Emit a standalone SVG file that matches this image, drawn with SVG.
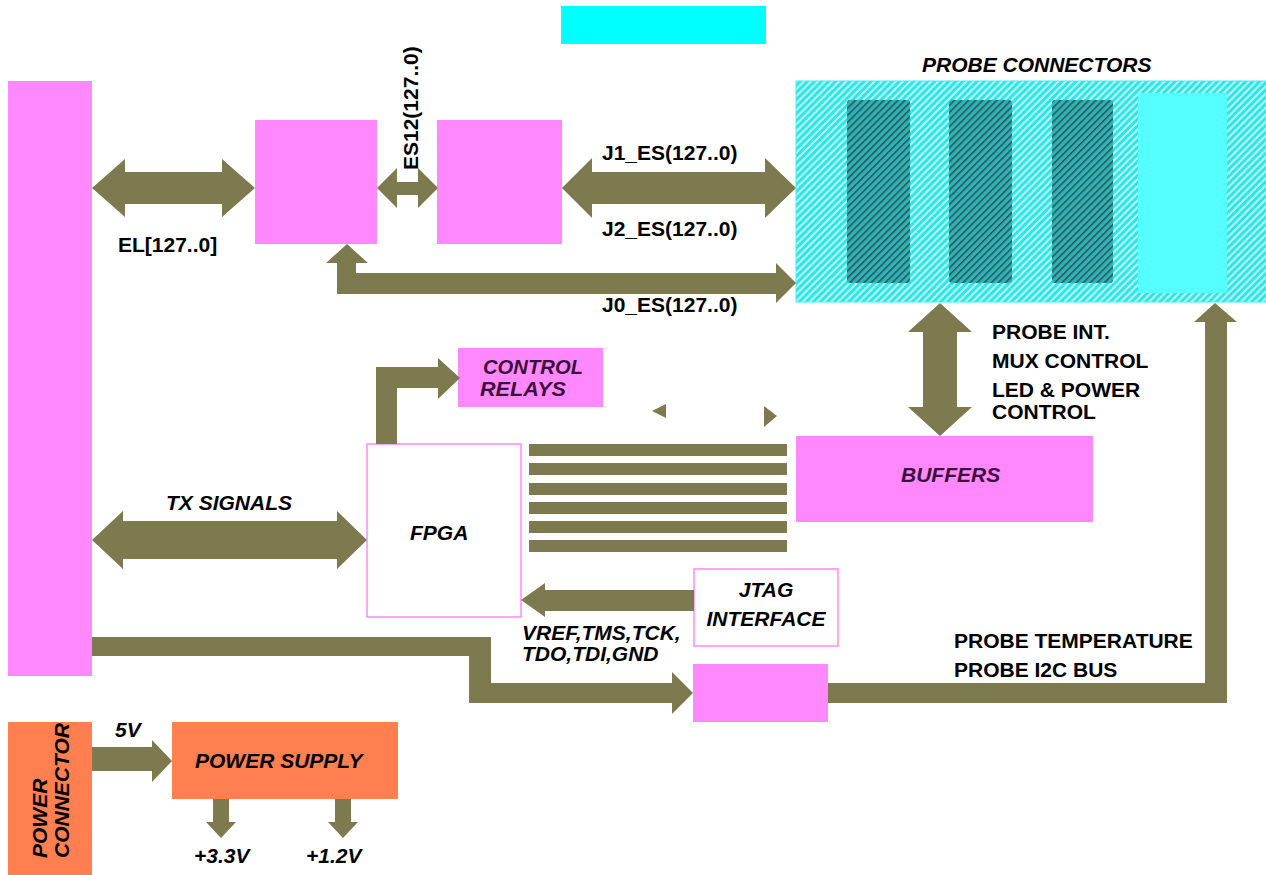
<svg xmlns="http://www.w3.org/2000/svg" width="1266" height="875" viewBox="0 0 1266 875">
<defs>
<style>
.mag{fill:#ff88ff}
.frame{fill:#ffffff;stroke:#ff88ff;stroke-width:1.5}
.org{fill:#ff7f50}
.conn polygon,.conn rect{fill:#7e7a50}
text{font-family:"Liberation Sans",Arial,Helvetica,sans-serif;font-size:21px;font-weight:bold;fill:#000}
.it{font-style:italic}
.pur{fill:#3a103a}
</style>
<pattern id="hatch" width="5" height="5" patternUnits="userSpaceOnUse" patternTransform="rotate(-45)">
<rect width="5" height="5" fill="#2de6e6"/><rect width="5" height="2" fill="#c0ffff"/>
</pattern>
<pattern id="hatchDark" width="5" height="5" patternUnits="userSpaceOnUse" patternTransform="rotate(-45)">
<rect width="5" height="5" fill="#2fb4b4"/><rect width="5" height="1.6" fill="#2a5560"/>
</pattern>
</defs>
<rect width="1266" height="875" fill="#ffffff"/>

<g id="top-bar"><rect x="561" y="6" width="205" height="38" fill="#00ffff"/></g>

<g id="backplane"><rect class="mag" x="8" y="81" width="84" height="595"/></g>

<g id="mux-a"><rect class="mag" x="255" y="120" width="122" height="124"/></g>
<g id="mux-b"><rect class="mag" x="437" y="120" width="125" height="124"/></g>

<g id="probe-connectors">
<text class="it" x="922" y="72">PROBE CONNECTORS</text>
<rect x="796" y="81" width="470" height="221" fill="url(#hatch)" stroke="#40f0f0" stroke-width="1"/>
<rect x="847" y="100" width="63" height="183" rx="3" fill="url(#hatchDark)"/>
<rect x="949" y="100" width="63" height="183" rx="3" fill="url(#hatchDark)"/>
<rect x="1052" y="100" width="61" height="183" rx="3" fill="url(#hatchDark)"/>
<rect x="1138" y="93" width="89" height="200" fill="#55ffff"/>
</g>

<g id="control-relays">
<rect class="mag" x="458" y="348" width="145" height="59"/>
<text class="it pur" x="483" y="374" font-size="16" textLength="100" lengthAdjust="spacingAndGlyphs">CONTROL</text>
<text class="it pur" x="480" y="396" font-size="16" textLength="86" lengthAdjust="spacingAndGlyphs">RELAYS</text>
</g>

<g id="fpga">
<rect class="frame" x="367" y="444" width="154" height="173"/>
<text class="it" x="410" y="540">FPGA</text>
</g>

<g id="buffers">
<rect class="mag" x="796" y="436" width="297" height="86"/>
<text class="it pur" x="901" y="482">BUFFERS</text>
</g>

<g id="jtag">
<rect class="frame" x="694" y="569" width="144" height="77"/>
<text class="it" x="766" y="597" text-anchor="middle" font-weight="normal">JTAG</text>
<text class="it" x="766" y="626" text-anchor="middle" font-weight="normal">INTERFACE</text>
</g>

<g id="i2c-block"><rect class="mag" x="693" y="664" width="135" height="58"/></g>

<g id="power-connector">
<rect class="org" x="8" y="722" width="84" height="153"/>
<text class="it" transform="translate(47,858) rotate(-90)" font-size="20">POWER</text>
<text class="it" transform="translate(69,858) rotate(-90)" font-size="20">CONNECTOR</text>
</g>

<g id="power-supply">
<rect class="org" x="172" y="722" width="226" height="77"/>
<text class="it" x="195" y="768">POWER SUPPLY</text>
</g>

<g id="connectors" class="conn">
<polygon points="92,188 125,159 125,172 222,172 222,159 255,188 222,217 222,204 125,204 125,217"/>
<polygon points="377,188 397,168 397,182 418,182 418,168 438,188 418,208 418,195 397,195 397,208"/>
<polygon points="562,188 592,158 592,172 765,172 765,158 796,188 765,218 765,204 592,204 592,218"/>
<polygon points="347,244 368,263 356,263 356,273 776,273 776,263 796,283 776,303 776,294 337,294 337,263 326,263"/>
<polygon points="92,540 123,511 123,521 337,521 337,511 367,540 337,569 337,559 123,559 123,569"/>
<polygon points="376,444 376,367 438,367 438,358 460,378 438,399 438,388 397,388 397,444"/>
<polygon points="940,303 972,332 957,332 957,407 972,407 940,436 908,407 923,407 923,332 908,332"/>
<polygon points="521,600 545,583 545,590 694,590 694,611 545,611 545,617"/>
<polygon points="92,637 491,637 491,683 672,683 672,672 693,693 672,714 672,703 469,703 469,656 92,656"/>
<polygon points="828,683 1205,683 1205,322 1194,322 1215,303 1237,322 1227,322 1227,703 828,703"/>
<polygon points="92,747 152,747 152,740 172,761 152,782 152,771 92,771"/>
<polygon points="213,799 229,799 229,822 236,822 221,838 206,822 213,822"/>
<polygon points="335,799 351,799 351,822 358,822 343,838 328,822 335,822"/>
<polygon points="652,411 666,404 666,418"/>
<polygon points="777,416 764,406 764,427"/>
<rect x="529" y="444" width="258" height="12"/>
<rect x="529" y="463" width="258" height="12"/>
<rect x="529" y="483" width="258" height="12"/>
<rect x="529" y="502" width="258" height="12"/>
<rect x="529" y="521" width="258" height="12"/>
<rect x="529" y="540" width="258" height="12"/>
</g>

<g id="labels">
<text x="118" y="252">EL[127..0]</text>
<text transform="translate(418,170) rotate(-90)" font-size="20">ES12(127..0)</text>
<text x="602" y="160">J1_ES(127..0)</text>
<text x="602" y="236">J2_ES(127..0)</text>
<text x="602" y="312">J0_ES(127..0)</text>
<text x="992" y="339">PROBE INT.</text>
<text x="992" y="368">MUX CONTROL</text>
<text x="992" y="397">LED &amp; POWER</text>
<text x="992" y="419">CONTROL</text>
<text class="it" x="166" y="510">TX SIGNALS</text>
<text class="it" x="522" y="640" font-size="20">VREF,TMS,TCK,</text>
<text class="it" x="522" y="661" font-size="20">TDO,TDI,GND</text>
<text x="954" y="648">PROBE TEMPERATURE</text>
<text x="954" y="677">PROBE I2C BUS</text>
<text class="it" x="115" y="737">5V</text>
<text class="it" x="194" y="863">+3.3V</text>
<text class="it" x="306" y="863">+1.2V</text>
</g>
</svg>
